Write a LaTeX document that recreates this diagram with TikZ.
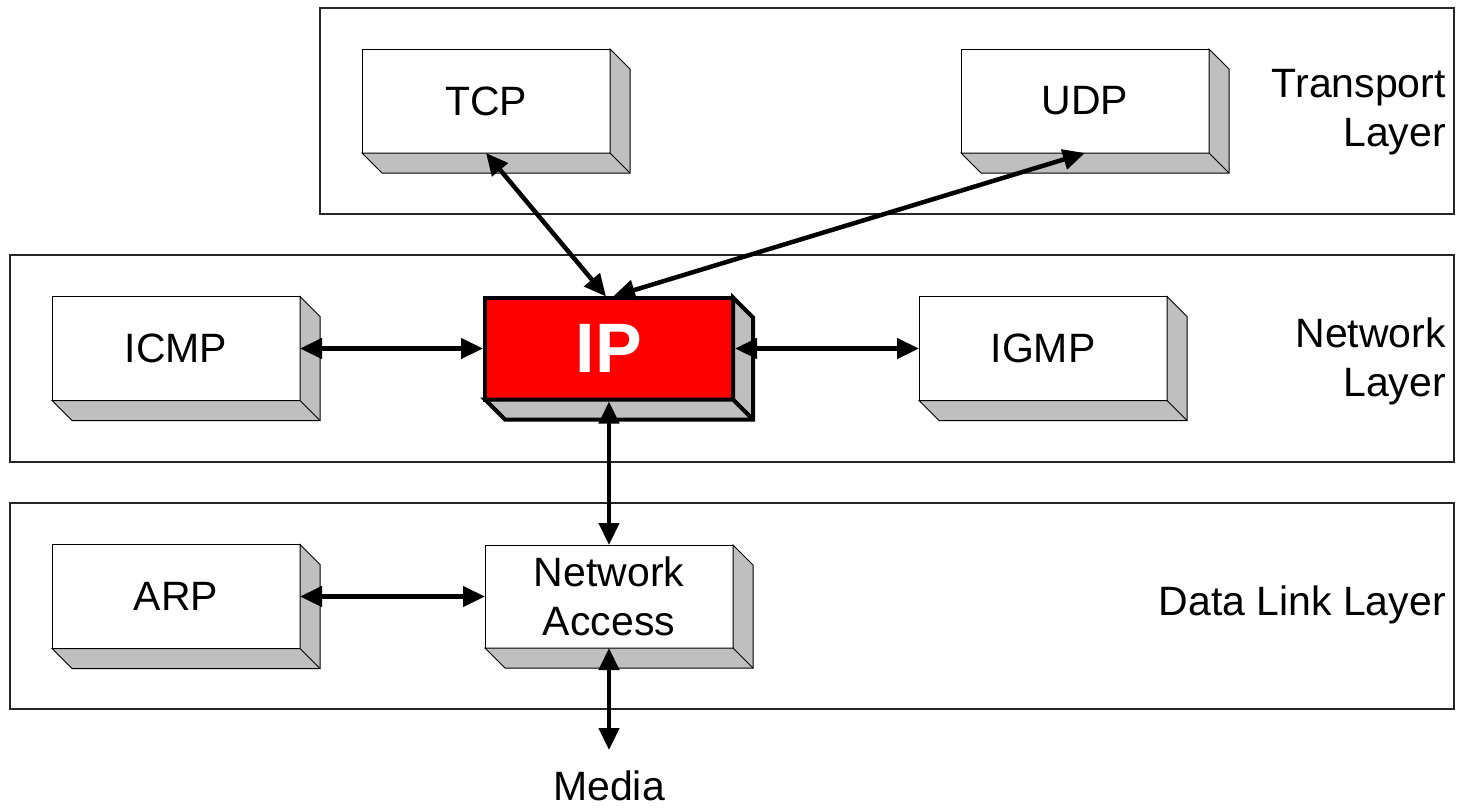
\documentclass[tikz,border=0pt]{standalone}
\usepackage{fontspec}
\setmainfont{Liberation Sans}
\usetikzlibrary{arrows.meta,calc}
\newcommand\extrudebox[2][]{%
  \filldraw[sideface,#1] (#2.north east) -- ++(20,20) -- ($(#2.south east)+(20,20)$) -- ($(#2.south west)+(20,20)$) -- (#2.south west) -- (#2.south east) -- cycle;
  \draw[sideface,#1] (#2.south east) -- ++(20,20);
}
\tikzset{
  layerbox/.style={draw=black!85, line width=1.5pt},
  frontbox/.style={draw=black, line width=1pt, fill=white, minimum width=248pt, minimum height=104pt, inner sep=0pt, outer sep=0pt, align=center, font=\fontsize{41}{49}\selectfont},
  ipbox/.style={frontbox, fill=red, line width=4pt, font=\fontsize{70}{80}\selectfont\bfseries, text=white},
  sideface/.style={fill=black!25, draw=black, line width=1pt, line join=miter},
  layerlabel/.style={anchor=east, align=right, inner sep=0pt, font=\fontsize{41}{49}\selectfont},
  link/.style={line width=4.5pt, {Triangle[length=22pt,width=20pt]}-{Triangle[length=22pt,width=20pt]}},
}
\begin{document}
\begin{tikzpicture}[x=1pt,y=-1pt]
\useasboundingbox (0,0) rectangle (1457,807);
% layer frames
\draw[layerbox] (320,8) rectangle (1454,214);
\draw[layerbox] (10,255) rectangle (1454,462);
\draw[layerbox] (10,503) rectangle (1454,709);
% layer labels
\node[layerlabel] (ltrans) at (1446,112) {Transport\\Layer};
\node[layerlabel] (lnet) at (1446,361) {Network\\Layer};
\node[layerlabel] (llink) at (1446,605) {Data Link Layer};
% boxes
\node[frontbox] (tcp) at (486,101) {TCP};
\extrudebox{tcp}
\node[frontbox] (udp) at (1085,101) {UDP};
\extrudebox{udp}
\node[frontbox] (icmp) at (176,348.5) {ICMP};
\extrudebox{icmp}
\node[ipbox, minimum height=102pt] (ip) at (609,348.5) {IP};
\extrudebox[line width=4pt]{ip}
\node[frontbox] (igmp) at (1043,348.5) {IGMP};
\extrudebox{igmp}
\node[frontbox] (arp) at (176,596.5) {ARP};
\extrudebox{arp}
\node[frontbox, minimum height=103pt] (na) at (609,596.5) {Network\\Access};
\extrudebox{na}
% media
\coordinate (mediaend) at (609,750);
\node[font=\fontsize{41}{49}\selectfont, inner sep=0pt] (media) at (609,786) {Media};
% connectors
\draw[link] (tcp.south) -- ($(ip.north)+(-3,-1)$);
\draw[link] (udp.south) -- ($(ip.north)+(4,-1)$);
\draw[link] (icmp.east) -- ($(ip.west)+(-2,0)$);
\draw[link] ($(ip.east)+(2,0)$) -- (igmp.west);
\draw[link] ($(ip.south)+(0,2)$) -- (na.north);
\draw[link] (arp.east) -- (na.west);
\draw[link] (na.south) -- (mediaend);
\end{tikzpicture}
\end{document}
